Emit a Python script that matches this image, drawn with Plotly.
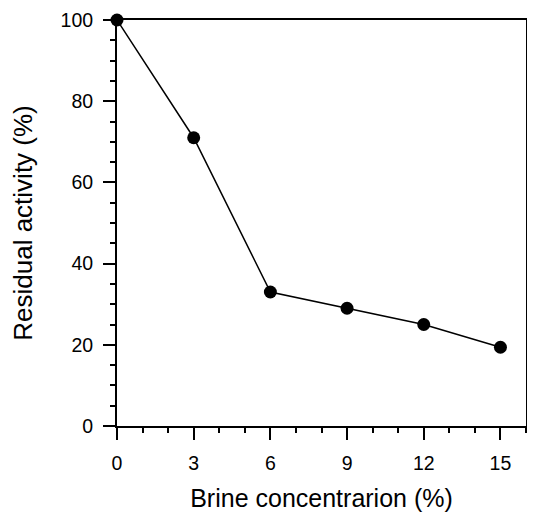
import plotly.graph_objects as go

brine = [0, 3, 6, 9, 12, 15]
activity = [100, 71, 33, 29, 25, 19.4]
x_ticks = [0, 3, 6, 9, 12, 15]
y_ticks = [0, 20, 40, 60, 80, 100]

fig = go.Figure()
fig.add_trace(go.Scatter(
    x=brine, y=activity, mode="lines+markers",
    line=dict(color="black", width=1.5),
    marker=dict(color="black", size=13),
    cliponaxis=False, showlegend=False,
))

font = dict(family="Liberation Sans, Arial, sans-serif", color="black")

fig.update_layout(
    width=519, height=504,
    margin=dict(l=109, r=1, t=12, b=86, autoexpand=False),
    paper_bgcolor="white", plot_bgcolor="white",
    font=font,
)
fig.update_xaxes(
    range=[0, 16], tickvals=x_ticks, ticktext=[str(v) for v in x_ticks],
    showgrid=False, zeroline=False, automargin=False,
    showline=True, linecolor="black", linewidth=2, mirror=True,
    ticks="outside", ticklen=12, tickwidth=1.5, tickcolor="black",
    minor=dict(dtick=1, ticks="outside", ticklen=5, tickwidth=1.5, tickcolor="black", showgrid=False),
    tickfont=dict(size=19.5), ticklabelstandoff=7, ticklabeloverflow="allow",
    title=dict(text="Brine concentrarion (%)", font=dict(size=25), standoff=22),
)
fig.update_yaxes(
    range=[0, 100], tickvals=y_ticks, ticktext=[str(v) for v in y_ticks],
    showgrid=False, zeroline=False, automargin=False,
    showline=True, linecolor="black", linewidth=2, mirror=True,
    ticks="outside", ticklen=12, tickwidth=1.5, tickcolor="black",
    minor=dict(dtick=5, ticks="outside", ticklen=5, tickwidth=1.5, tickcolor="black", showgrid=False),
    tickfont=dict(size=19.5), ticklabelstandoff=6, ticklabeloverflow="allow",
    title=dict(text="Residual activity (%)", font=dict(size=26), standoff=22),
)
fig.write_html("out.html")
